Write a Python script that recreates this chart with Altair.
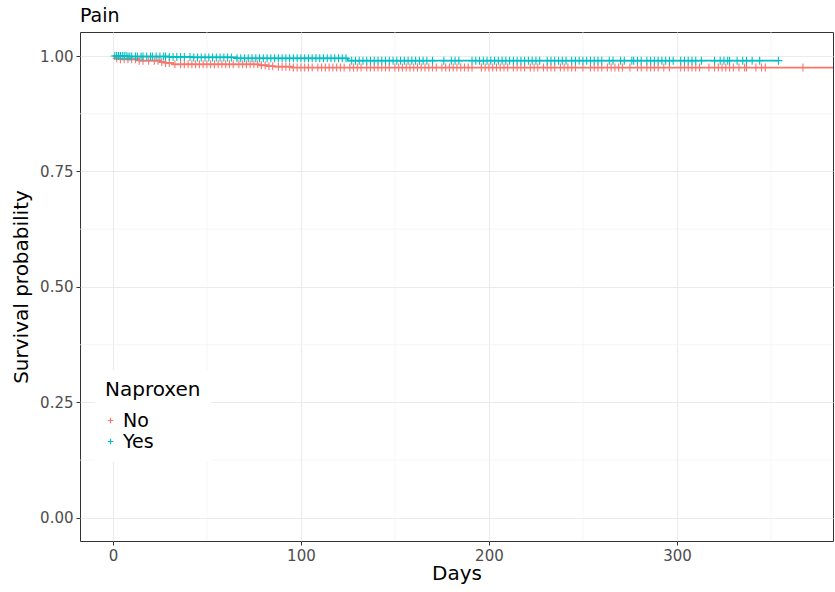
import altair as alt
import pandas as pd

# ---- data ----
groups = ["No", "Yes"]
colors = ["#F8766D", "#00BFC4"]

no_times = [0, 1, 4, 14, 25, 28, 32, 78, 82, 86, 95, 383]
no_surv = [1.0, 0.995, 0.993, 0.990, 0.987, 0.985, 0.982, 0.980, 0.978, 0.977, 0.975, 0.975]
yes_times = [0, 8, 30, 42, 66, 125, 354]
yes_surv = [1.0, 0.999, 0.998, 0.997, 0.995, 0.990, 0.990]

no_censor = [2, 4, 6, 8, 10, 12, 14, 16, 19, 22, 24, 26, 28, 30, 33, 36, 38, 40, 42, 44, 46, 48, 50,
             52, 54, 56, 58, 60, 62, 64, 67, 69, 71, 73, 75, 77, 79, 81, 83, 85, 88, 90, 92, 94, 96,
             98, 100, 102, 104, 106, 109, 111, 113, 115, 117, 119, 121, 123, 126, 128, 130, 132, 135,
             137, 139, 141, 143, 145, 147, 150, 152, 154, 156, 158, 160, 162, 164, 166, 168, 170, 172,
             175, 177, 179, 181, 183, 185, 187, 189, 191, 196, 198, 200, 202, 204, 206, 208, 210, 213,
             215, 217, 219, 222, 224, 226, 229, 231, 233, 235, 238, 240, 242, 244, 246, 250, 254, 256,
             258, 260, 263, 265, 267, 269, 271, 275, 279, 281, 284, 286, 288, 290, 293, 296, 302, 304,
             306, 308, 310, 312, 317, 320, 322, 324, 326, 328, 330, 333, 336, 337, 342, 345, 347, 367]
yes_censor = [1, 2, 3, 4, 5, 6, 7, 8, 9, 10, 12, 13, 15, 16, 18, 20, 21, 23, 25, 27, 28, 30, 32, 34,
              36, 38, 41, 43, 45, 47, 49, 51, 53, 55, 57, 59, 61, 63, 66, 68, 70, 72, 74, 76, 78, 80,
              82, 84, 86, 88, 90, 92, 94, 96, 98, 100, 102, 104, 106, 108, 110, 112, 114, 116, 118,
              120, 122, 124, 127, 129, 131, 133, 135, 137, 139, 141, 143, 145, 147, 149, 151, 153, 155,
              157, 159, 161, 163, 165, 167, 170, 176, 180, 182, 184, 191, 193, 195, 197, 199, 201, 203,
              205, 207, 209, 211, 213, 215, 217, 219, 221, 223, 225, 227, 231, 233, 235, 237, 239, 241,
              244, 246, 248, 250, 252, 254, 256, 258, 260, 264, 266, 270, 272, 276, 277, 279, 281, 284,
              286, 288, 290, 292, 294, 296, 298, 302, 304, 306, 308, 310, 313, 320, 323, 325, 327, 328,
              332, 335, 337, 340, 344, 354]

x_major = [0, 100, 200, 300]
x_minor = [50, 150, 250, 350]
y_major = [0.0, 0.25, 0.50, 0.75, 1.0]
y_minor = [0.125, 0.375, 0.625, 0.875]

# ---- tables ----
curve_no = pd.DataFrame({"time": no_times, "surv": no_surv, "group": "No"})
curve_yes = pd.DataFrame({"time": yes_times, "surv": yes_surv, "group": "Yes"})
curves = pd.concat([curve_no, curve_yes], ignore_index=True)


def censor_table(times, curve, name):
    c = pd.DataFrame({"time": sorted(float(t) for t in times)})
    cv = curve[["time", "surv"]].astype(float).sort_values("time")
    out = pd.merge_asof(c, cv, on="time", direction="backward")
    out["group"] = name
    return out


censors = pd.concat([censor_table(no_censor, curve_no, "No"),
                     censor_table(yes_censor, curve_yes, "Yes")], ignore_index=True)

xgrid_minor = pd.DataFrame({"v": x_minor})
ygrid_minor = pd.DataFrame({"v": y_minor})

xscale = alt.Scale(domain=[-17.5, 383], nice=False, zero=False)
yscale = alt.Scale(domain=[-0.05, 1.052], nice=False, zero=False)
cscale = alt.Scale(domain=groups, range=colors)

FONT = "DejaVu Sans"
xaxis = alt.Axis(values=x_major, title="Days", format="d", grid=True, gridColor="#ebebeb",
                 gridWidth=1.1, domain=False, tickColor="#333333", tickSize=4, labelFontSize=15,
                 labelColor="#4d4d4d", labelFont=FONT, titleFont=FONT, titleFontSize=20,
                 titleFontWeight="normal", titleColor="black", labelPadding=3, titlePadding=0,
                 labelFlush=False)
yaxis = alt.Axis(values=y_major, title="Survival probability", format=".2f", grid=True,
                 gridColor="#ebebeb", gridWidth=1.1, domain=False, tickColor="#333333", tickSize=4,
                 labelFontSize=15, labelColor="#4d4d4d", labelFont=FONT, titleFont=FONT,
                 titleFontSize=20, titleFontWeight="normal", titleColor="black", labelPadding=3,
                 titlePadding=8, labelFlush=False)

plus = "M-1,0H1M0,-1V1"

legend = alt.Legend(title="Naproxen", orient="none", legendX=15, legendY=338,
                    symbolType=plus, symbolSize=30, symbolStrokeWidth=1.2, symbolOffset=-4,
                    symbolFillColor="transparent", titleFontSize=20,
                    titleFont=FONT, titleFontWeight="normal", titleColor="black",
                    labelFontSize=19, labelFont=FONT, labelColor="black",
                    fillColor="white", padding=10, rowPadding=1,
                    titlePadding=11, labelOffset=3)

minor_x = alt.Chart(xgrid_minor).mark_rule(color="#f2f2f2", strokeWidth=0.7).encode(
    x=alt.X("v:Q", scale=xscale, axis=xaxis))
minor_y = alt.Chart(ygrid_minor).mark_rule(color="#f2f2f2", strokeWidth=0.7).encode(
    y=alt.Y("v:Q", scale=yscale, axis=yaxis))

lines = alt.Chart(curves).mark_line(interpolate="step-after", strokeWidth=1.8).encode(
    x=alt.X("time:Q", scale=xscale, axis=xaxis),
    y=alt.Y("surv:Q", scale=yscale, axis=yaxis),
    color=alt.Color("group:N", scale=cscale, legend=legend),
    detail="group:N",
)

points = alt.Chart(censors).mark_point(shape=plus, filled=False, size=64, strokeWidth=1.1,
                                       opacity=1).encode(
    x=alt.X("time:Q", scale=xscale, axis=xaxis),
    y=alt.Y("surv:Q", scale=yscale, axis=yaxis),
    color=alt.Color("group:N", scale=cscale, legend=legend),
)

chart = alt.layer(minor_x, minor_y, lines, points).properties(
    width=753, height=509,
    title=alt.TitleParams("Pain", anchor="start", frame="group", fontSize=19, font=FONT,
                          fontWeight="normal", color="black", offset=6),
    padding={"left": 80, "top": 32, "right": 2, "bottom": 51},
    autosize=alt.AutoSizeParams(type="none"),
).configure_view(stroke="#333333", strokeWidth=1)

chart.save("out.html", embed_options={"renderer": "svg", "actions": False})
